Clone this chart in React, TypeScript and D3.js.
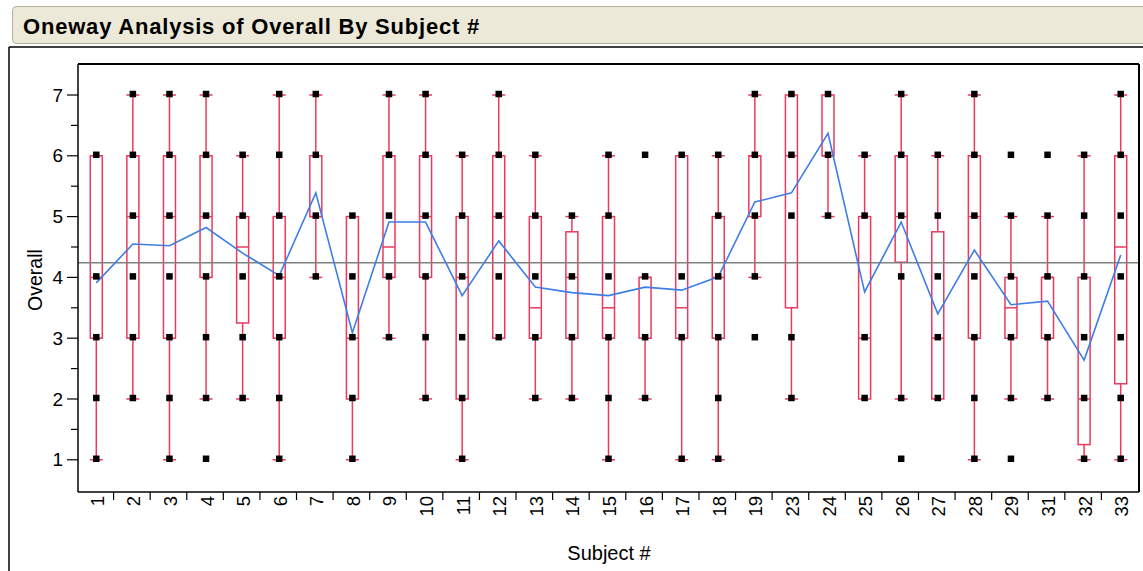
import React from "react";
import * as d3 from "d3";

const categories = ["1","2","3","4","5","6","7","8","9","10","11","12","13","14","15","16","17","18","19","23","24","25","26","27","28","29","31","32","33"];
const q1Values = [3,3,3,4,3.25,3,5,2,4,4,2,3,3,3,3,3,3,3,5,3.5,6,2,4.25,2,3,3,3,1.25,2.25];
const medianValues = [4,5,5,5,4.5,4,5,3,4.5,5,4,5,3.5,4,3.5,4,3.5,4,6,6,6,3,5,3,5,3.5,4,2,4.5];
const q3Values = [6,6,6,6,5,5,6,5,6,6,5,6,5,4.75,5,4,6,5,6,7,7,5,6,4.75,6,4,4,4,6];
const whiskerLow = [1,2,1,2,2,1,4,1,3,2,1,3,2,2,1,2,1,1,4,2,5,2,2,2,1,2,2,1,1];
const whiskerHigh = [6,7,7,7,6,7,7,5,7,7,6,7,6,5,6,4,6,6,7,7,7,6,7,6,7,5,5,6,7];
const meanValues = [3.91,4.55,4.52,4.82,4.4,4.03,5.39,3.09,4.91,4.91,3.7,4.6,3.84,3.75,3.7,3.84,3.79,4.01,5.24,5.39,6.37,3.76,4.91,3.4,4.45,3.55,3.61,2.64,4.37];
const pointValues = [
  [1,2,3,4,6],[2,3,4,5,6,7],[1,2,3,4,5,6,7],[1,2,3,4,5,6,7],[2,3,4,5,6],
  [1,2,3,4,5,6,7],[4,5,6,7],[1,2,3,4,5],[3,4,5,6,7],[2,3,4,5,6,7],
  [1,2,3,4,5,6],[3,4,5,6,7],[2,3,4,5,6],[2,3,4,5],[1,2,3,4,5,6],
  [2,3,4,6],[1,3,4,6],[1,2,3,4,5,6],[3,4,5,6,7],[2,3,5,6,7],
  [5,6,7],[2,3,5,6],[1,2,4,5,6,7],[2,3,4,5,6],[1,2,3,4,5,6,7],
  [1,2,3,4,5,6],[2,3,4,5,6],[1,2,3,4,5,6],[1,2,3,4,5,6,7]
];
const grandMean = 4.24;
const yTicks = [1,2,3,4,5,6,7];
const yMinorTicks = [1.5,2.5,3.5,4.5,5.5,6.5];

const RED = "#EC3A5E";
const BLUE = "#3D7EE6";
const FONT = "'Liberation Sans', Arial, sans-serif";

export default function App() {
  const left = 78, right = 1139, top = 64, bottom = 492;
  const x = d3.scaleBand<string>().domain(categories).range([left, right]).paddingInner(0).paddingOuter(0);
  const y = d3.scaleLinear().domain([0.47, 7.51]).range([bottom, top]);
  const cx = (c: string) => (x(c) as number) + x.bandwidth() / 2;
  const boxW = 12, capW = 13, ptS = 6.5;

  const meanLine = d3.line<number>()
    .x((_, i) => cx(categories[i]))
    .y((d) => y(d))(meanValues) as string;

  return (
    <svg width={1143} height={571} style={{ position: "absolute", left: 0, top: 0, background: "#fff" }}>
      {/* header */}
      <rect x={12.5} y={6.5} width={1140} height={37} rx={4} fill="#ECE9D8" stroke="#B3B09F" />
      <text x={23} y={34} fontFamily={FONT} fontWeight="bold" fontSize={22} letterSpacing={0.8} fill="#000">Oneway Analysis of Overall By Subject #</text>
      {/* outer frame */}
      <line x1={9} y1={47} x2={1143} y2={47} stroke="#000" strokeWidth={1.5} />
      <line x1={9} y1={47} x2={9} y2={571} stroke="#000" strokeWidth={1.5} />

      {/* boxes */}
      {categories.map((c, i) => {
        const xc = cx(c);
        return (
          <g key={c} stroke={RED} strokeWidth={1.5} fill="none">
            {whiskerHigh[i] > q3Values[i] && (
              <>
                <line x1={xc} x2={xc} y1={y(q3Values[i])} y2={y(whiskerHigh[i])} />
                <line x1={xc - capW / 2} x2={xc + capW / 2} y1={y(whiskerHigh[i])} y2={y(whiskerHigh[i])} />
              </>
            )}
            {whiskerLow[i] < q1Values[i] && (
              <>
                <line x1={xc} x2={xc} y1={y(q1Values[i])} y2={y(whiskerLow[i])} />
                <line x1={xc - capW / 2} x2={xc + capW / 2} y1={y(whiskerLow[i])} y2={y(whiskerLow[i])} />
              </>
            )}
            <rect x={xc - boxW / 2} y={y(q3Values[i])} width={boxW} height={y(q1Values[i]) - y(q3Values[i])} />
            <line x1={xc - boxW / 2} x2={xc + boxW / 2} y1={y(medianValues[i])} y2={y(medianValues[i])} />
          </g>
        );
      })}

      {/* grand mean */}
      <line x1={left} x2={right} y1={y(grandMean)} y2={y(grandMean)} stroke="#808080" strokeWidth={1.5} />
      {/* mean line */}
      <path d={meanLine} fill="none" stroke={BLUE} strokeWidth={1.6} />

      {/* points */}
      {categories.map((c, i) =>
        pointValues[i].map((v) => (
          <rect key={c + "-" + v} x={cx(c) - ptS / 2} y={y(v) - ptS / 2 - 1} width={ptS} height={ptS} fill="#000" />
        ))
      )}

      {/* plot frame */}
      <line x1={left} x2={right} y1={top} y2={top} stroke="#000" strokeWidth={2} />
      <line x1={right} x2={right} y1={top} y2={bottom} stroke="#000" strokeWidth={2} />
      <line x1={left} x2={left} y1={top} y2={bottom} stroke="#000" strokeWidth={1.5} />
      <line x1={left} x2={right} y1={bottom} y2={bottom} stroke="#000" strokeWidth={1.5} />

      {/* y ticks */}
      {yTicks.map((t) => (
        <g key={"yt" + t}>
          <line x1={67} x2={left} y1={y(t)} y2={y(t)} stroke="#000" strokeWidth={1.2} />
          <text x={63} y={y(t)} dy="0.35em" textAnchor="end" fontFamily={FONT} fontSize={19} fill="#000">{t}</text>
        </g>
      ))}
      {yMinorTicks.map((t) => (
        <line key={"ym" + t} x1={71} x2={left} y1={y(t)} y2={y(t)} stroke="#000" strokeWidth={1.2} />
      ))}
      <text transform={`translate(35,${(top + bottom) / 2 + 2}) rotate(-90)`} dy="0.35em" textAnchor="middle" fontFamily={FONT} fontSize={19.5} fill="#000">Overall</text>

      {/* x ticks */}
      {categories.map((c) => (
        <g key={"xt" + c}>
          {c !== categories[categories.length - 1] && (
            <line x1={(x(c) as number) + x.bandwidth() - 1} x2={(x(c) as number) + x.bandwidth() - 1} y1={bottom} y2={bottom + 8} stroke="#000" strokeWidth={1.2} />
          )}
          <text transform={`translate(${cx(c) + 1},${bottom + 4}) rotate(-90)`} dy="0.35em" textAnchor="end" fontFamily={FONT} fontSize={18.5} fill="#000">{c}</text>
        </g>
      ))}
      <text x={609} y={560} textAnchor="middle" fontFamily={FONT} fontSize={20} fill="#000">Subject #</text>
    </svg>
  );
}
